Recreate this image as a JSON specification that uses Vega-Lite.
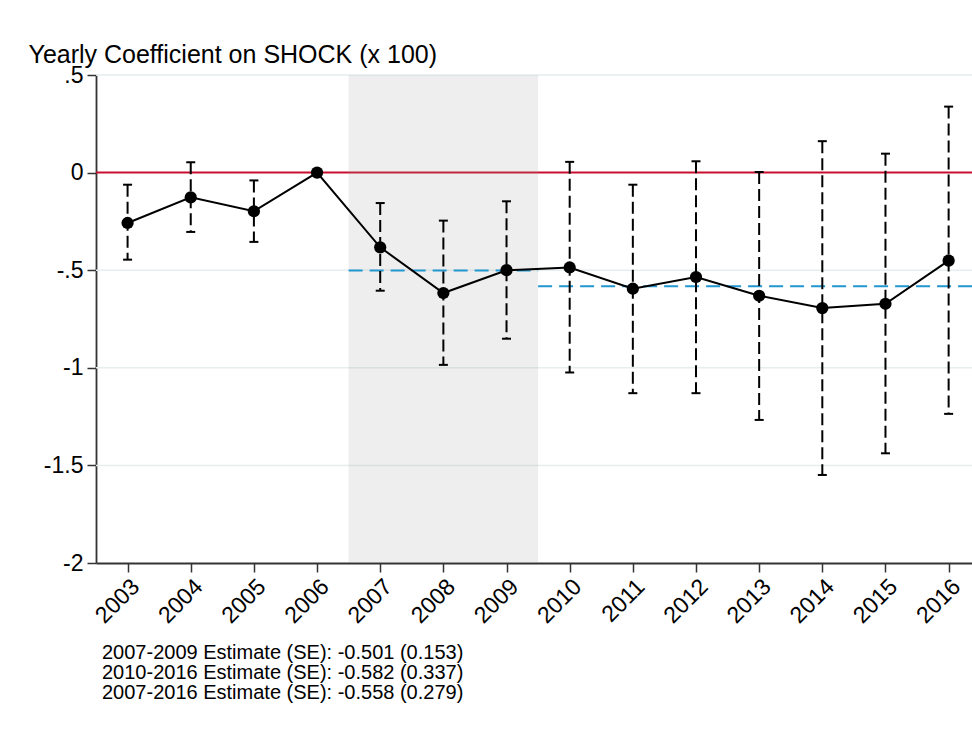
{
  "$schema": "https://vega.github.io/schema/vega-lite/v6.json",
  "width": 876,
  "height": 488,
  "autosize": {"type": "none"},
  "padding": {"left": 96, "top": 75, "right": 0, "bottom": 171},
  "background": "white",
  "view": {"stroke": null},
  "config": {"font": "Liberation Sans"},
  "title": {
    "text": ["2007-2009 Estimate (SE): -0.501 (0.153)", "2010-2016 Estimate (SE): -0.582 (0.337)", "2007-2016 Estimate (SE): -0.558 (0.279)"],
    "orient": "bottom",
    "anchor": "start",
    "frame": "group",
    "font": "Liberation Sans",
    "fontSize": 20,
    "fontWeight": "normal",
    "color": "#000000",
    "lineHeight": 20,
    "offset": 16,
    "dx": 6
  },
  "datasets": {
    "coef": [
      {"year": 2003, "est": -0.258, "lo": -0.446, "hi": -0.062},
      {"year": 2004, "est": -0.127, "lo": -0.304, "hi": 0.053},
      {"year": 2005, "est": -0.198, "lo": -0.355, "hi": -0.040},
      {"year": 2006, "est": 0.0, "lo": null, "hi": null},
      {"year": 2007, "est": -0.383, "lo": -0.605, "hi": -0.156},
      {"year": 2008, "est": -0.617, "lo": -0.985, "hi": -0.246},
      {"year": 2009, "est": -0.500, "lo": -0.851, "hi": -0.147},
      {"year": 2010, "est": -0.486, "lo": -1.024, "hi": 0.055},
      {"year": 2011, "est": -0.595, "lo": -1.130, "hi": -0.062},
      {"year": 2012, "est": -0.535, "lo": -1.130, "hi": 0.058},
      {"year": 2013, "est": -0.631, "lo": -1.267, "hi": 0.003},
      {"year": 2014, "est": -0.694, "lo": -1.549, "hi": 0.161},
      {"year": 2015, "est": -0.672, "lo": -1.438, "hi": 0.097},
      {"year": 2016, "est": -0.451, "lo": -1.236, "hi": 0.338}
    ],
    "periods": [
      {"period": "2007-2009", "from": 2006.5, "to": 2009.5, "estimate": -0.501},
      {"period": "2010-2016", "from": 2009.5, "to": 2016.5, "estimate": -0.582}
    ],
    "grid": [
      {"g": 0.5}, {"g": -0.5}, {"g": -1}, {"g": -1.5}
    ],
    "shade": [
      {"from": 2006.5, "to": 2009.5, "bottom": -2, "top": 0.5}
    ]
  },
  "encoding": {
    "x": {
      "field": "year",
      "type": "quantitative",
      "scale": {"domain": [2002.5, 2016.37], "nice": false, "zero": false},
      "axis": {
        "values": [2003, 2004, 2005, 2006, 2007, 2008, 2009, 2010, 2011, 2012, 2013, 2014, 2015, 2016],
        "format": "d",
        "title": null,
        "grid": false,
        "labelAngle": -45,
        "labelFont": "Liberation Sans",
        "labelFontSize": 23,
        "labelColor": "#000000",
        "labelPadding": 3,
        "tickSize": 9,
        "tickWidth": 1.5,
        "tickColor": "#333333",
        "domainColor": "#333333",
        "domainWidth": 1.8,
        "labelOverlap": false,
        "labelBound": false,
        "labelFlush": false
      }
    }
  },
  "layer": [
    {
      "data": {"name": "grid"},
      "mark": {"type": "rule", "color": "#e6eef0", "strokeWidth": 1.5},
      "encoding": {
        "x": null,
        "y": {"field": "g", "type": "quantitative", "scale": {"domain": [-2, 0.5], "nice": false, "zero": false},
          "axis": {
            "values": [0.5, 0, -0.5, -1, -1.5, -2],
            "labelExpr": "datum.value == 0.5 ? '.5' : datum.value == 0 ? '0' : datum.value == -0.5 ? '-.5' : datum.value == -1 ? '-1' : datum.value == -1.5 ? '-1.5' : '-2'",
            "grid": false,
            "title": "Yearly Coefficient on SHOCK (x 100)",
            "titleAngle": 0,
            "titleAlign": "left",
            "titleBaseline": "alphabetic",
            "titleX": -68,
            "titleY": -13,
            "titleFont": "Liberation Sans",
            "titleFontSize": 25,
            "titleFontWeight": "normal",
            "titleColor": "#000000",
            "labelFont": "Liberation Sans",
            "labelFontSize": 23,
            "labelColor": "#000000",
            "labelPadding": 4,
            "labelBaseline": "middle",
            "tickSize": 9,
            "tickWidth": 1.5,
            "tickColor": "#333333",
            "domainColor": "#333333",
            "domainWidth": 1.8,
            "labelFlush": false,
            "labelOverlap": false,
            "labelBound": false
          }
        }
      }
    },
    {
      "data": {"values": [{"ref": 0}]},
      "mark": {"type": "rule", "color": "#c8102e", "strokeWidth": 2},
      "encoding": {"x": null, "y": {"field": "ref", "type": "quantitative"}}
    },
    {
      "data": {"name": "shade"},
      "mark": {"type": "rect", "fill": "#999999", "opacity": 0.17},
      "encoding": {
        "x": {"field": "from", "type": "quantitative"},
        "x2": {"field": "to"},
        "y": {"field": "bottom", "type": "quantitative"},
        "y2": {"field": "top"}
      }
    },
    {
      "data": {"name": "periods"},
      "mark": {"type": "rule", "color": "#2196cf", "strokeWidth": 2, "strokeDash": [14, 7], "clip": true},
      "encoding": {
        "x": {"field": "from", "type": "quantitative"},
        "x2": {"field": "to"},
        "y": {"field": "estimate", "type": "quantitative"}
      }
    },
    {
      "data": {"name": "coef"},
      "transform": [{"filter": "datum.lo != null"}],
      "mark": {"type": "rule", "color": "#000000", "strokeWidth": 2, "strokeDash": [12, 5]},
      "encoding": {
        "y": {"field": "hi", "type": "quantitative"},
        "y2": {"field": "lo"}
      }
    },
    {
      "data": {"name": "coef"},
      "transform": [{"filter": "datum.lo != null"}],
      "mark": {"type": "tick", "orient": "horizontal", "color": "#000000", "size": 9, "thickness": 2, "opacity": 1},
      "encoding": {"y": {"field": "hi", "type": "quantitative"}}
    },
    {
      "data": {"name": "coef"},
      "transform": [{"filter": "datum.lo != null"}],
      "mark": {"type": "tick", "orient": "horizontal", "color": "#000000", "size": 9, "thickness": 2, "opacity": 1},
      "encoding": {"y": {"field": "lo", "type": "quantitative"}}
    },
    {
      "data": {"name": "coef"},
      "mark": {"type": "line", "color": "#000000", "strokeWidth": 2},
      "encoding": {"y": {"field": "est", "type": "quantitative"}}
    },
    {
      "data": {"name": "coef"},
      "mark": {"type": "point", "filled": true, "shape": "circle", "color": "#000000", "size": 150, "opacity": 1},
      "encoding": {"y": {"field": "est", "type": "quantitative"}}
    }
  ]
}
